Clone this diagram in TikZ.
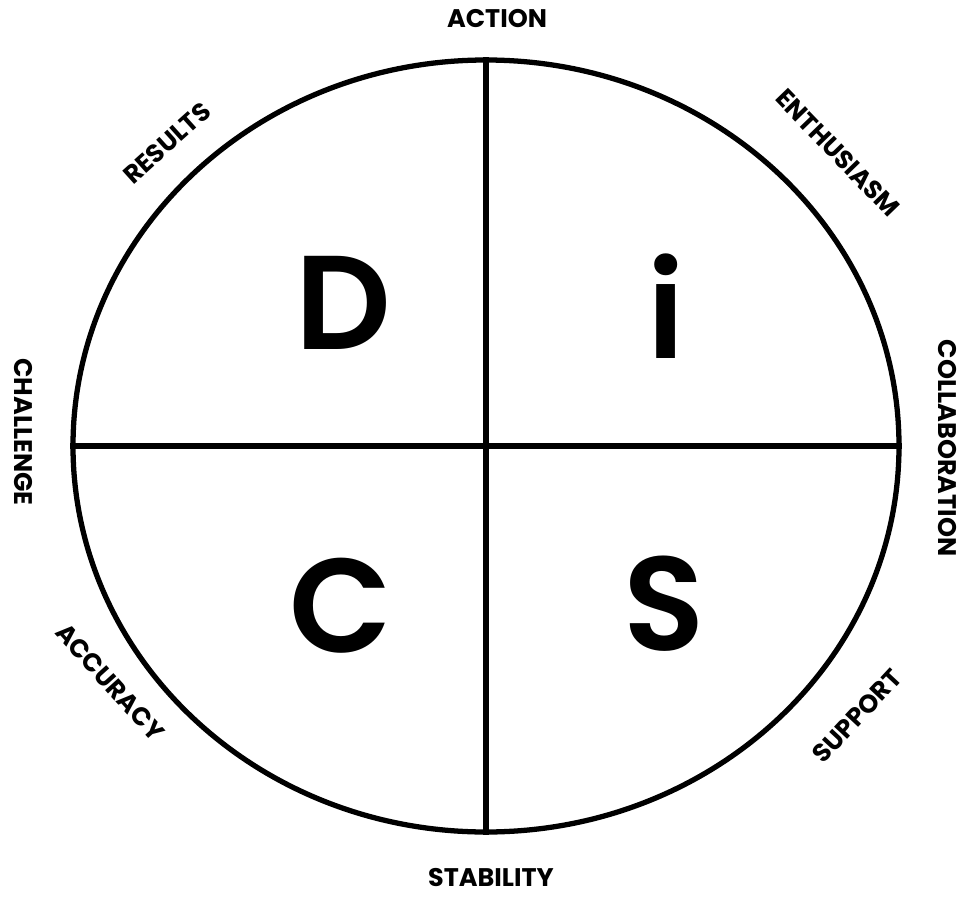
\documentclass[tikz,border=0pt]{standalone}
\usepackage{fontspec}
\setmainfont{Poppins}
\newfontfamily\letterfont{Poppins SemiBold}
\usepackage{tikz}
\usepackage{xcolor}
\usetikzlibrary{positioning, shapes.geometric}
\definecolor{ink}{HTML}{000000}

\begin{document}
\begin{tikzpicture}[x=0.02cm, y=-0.02cm,
    axis/.style={draw=ink, line width=3pt},
    trait/.style={font=\bfseries\fontsize{14.5}{15}\selectfont, text=ink, inner sep=0pt},
    quadletter/.style={font=\letterfont\fontsize{76}{76}\selectfont, text=ink, inner sep=0pt}]
        \useasboundingbox (0,0) rectangle (964,899);

        % the circle and its two axes
        \node[ellipse, axis, inner sep=0pt, minimum width=826*0.02cm, minimum height=772*0.02cm] (disc) at (486,446) {};
        \draw[axis] (disc.north) -- (disc.south);
        \draw[axis] (disc.west)  -- (disc.east);

        % quadrant letters
        \node[quadletter] (d) at (343,303) {D};
        \node[quadletter] (i) at (666,306) {i};
        \node[quadletter] (c) at (341,606) {C};
        \node[quadletter] (s) at (664,604) {S};

        % traits round the circle
        \node[trait]             (action)   at (497,19)  {ACTION};
        \node[trait, rotate=-46] (enthus)   at (838,153) {ENTHUSIASM};
        \node[trait, rotate=-90] (collab)   at (947,448) {COLLABORATION};
        \node[trait, rotate=47]  (support)  at (857,716) {SUPPORT};
        \node[trait]             (stable)   at (491,878) {STABILITY};
        \node[trait, rotate=-48] (accuracy) at (110,682) {ACCURACY};
        \node[trait, rotate=-90] (challenge) at (23,432) {CHALLENGE};
        \node[trait, rotate=42]  (results)  at (167,143) {RESULTS};
      \end{tikzpicture}
\end{document}
